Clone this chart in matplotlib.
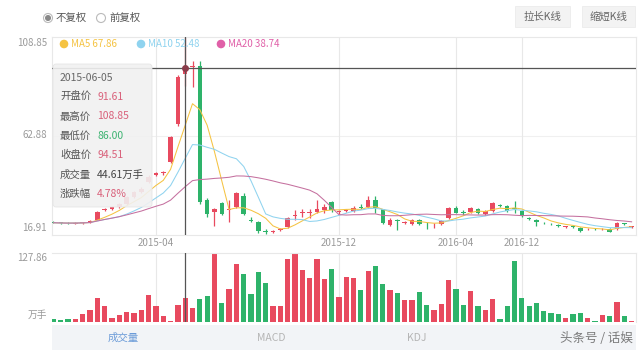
import numpy as np
import pandas as pd
import matplotlib
matplotlib.use("Agg")
import matplotlib.pyplot as plt
from matplotlib.patches import FancyBboxPatch, Rectangle, Circle

plt.rcParams['font.family'] = ['Noto Sans CJK SC', 'DejaVu Sans']

# ---- data ----
opens = [22.9, 22.7, 22.6, 22.2, 22.4, 22.9, 24.0, 28.3, 28.9, 29.9,
         31.3, 34.5, 37.0, 41.5, 44.8, 45.6, 51.0, 68.4, 91.61, 95.0,
         95.5, 33.2, 27.47, 31.6, 28.6, 29.8, 35.0, 24.0, 22.8, 18.6,
         18.3, 19.0, 20.5, 25.8, 27.3, 27.0, 27.75, 28.5, 32.4, 27.5,
         28.1, 28.2, 30.0, 29.8, 33.2, 28.85, 21.6, 24.0, 22.6, 22.0,
         23.9, 21.7, 21.4, 21.9, 24.7, 29.6, 27.5, 27.5, 28.85, 26.5,
         28.2, 30.6, 30.4, 29.3, 28.2, 24.8, 23.7, 22.6, 22.1, 21.6,
         20.6, 20.9, 20.35, 19.5, 19.9, 19.5, 19.75, 19.6, 22.3, 20.6]
highs = [23.4, 23.1, 23.0, 22.9, 23.0, 24.0, 28.2, 29.6, 30.4, 31.9,
         35.0, 37.5, 39.0, 44.6, 46.0, 46.8, 62.9, 91.0, 108.85, 97.5,
         97.5, 34.0, 29.6, 32.2, 33.2, 37.0, 36.3, 25.5, 23.2, 19.9,
         19.0, 20.2, 25.5, 28.5, 29.0, 28.8, 33.2, 31.5, 32.8, 28.6,
         29.2, 30.4, 31.5, 35.2, 34.8, 29.2, 24.6, 24.4, 23.4, 24.4,
         24.3, 22.8, 22.3, 24.0, 29.8, 30.2, 28.4, 29.8, 29.4, 28.6,
         32.4, 31.2, 30.9, 32.8, 28.6, 25.2, 24.2, 23.0, 22.5, 22.0,
         21.3, 21.3, 20.8, 20.2, 20.2, 20.1, 20.1, 22.8, 22.7, 21.2]
lows = [22.3, 22.2, 22.0, 21.9, 22.1, 22.6, 23.8, 27.9, 28.5, 29.5,
        31.0, 34.0, 36.5, 41.0, 44.2, 45.0, 50.5, 67.5, 86.00, 85.6,
        31.5, 25.5, 21.1, 26.0, 23.1, 29.3, 26.2, 22.8, 18.0, 17.6,
        17.8, 18.6, 20.2, 24.0, 25.2, 24.8, 27.2, 27.0, 27.8, 26.8,
        27.5, 27.8, 28.8, 29.4, 27.2, 22.0, 21.2, 19.25, 22.0, 21.6,
        21.6, 19.8, 20.0, 21.5, 24.3, 26.9, 26.4, 27.1, 26.6, 26.1,
        27.8, 29.9, 27.8, 27.0, 25.3, 23.8, 21.2, 21.8, 21.4, 20.8,
        20.2, 20.2, 18.4, 19.1, 19.1, 19.1, 18.1, 19.3, 21.6, 20.3]
closes = [22.6, 22.4, 22.3, 22.5, 22.8, 23.6, 27.75, 29.0, 29.8, 31.5,
          34.5, 37.0, 38.5, 44.0, 45.5, 46.3, 62.6, 90.4, 94.51, 95.6,
          32.4, 26.55, 29.0, 26.7, 29.0, 36.3, 26.7, 23.3, 18.65, 18.4,
          18.7, 19.6, 24.95, 26.4, 27.7, 27.5, 29.15, 30.1, 28.3, 27.9,
          28.5, 29.6, 29.6, 33.2, 29.35, 22.35, 23.9, 23.3, 22.9, 23.9,
          22.0, 21.4, 21.7, 23.6, 29.3, 27.3, 27.2, 29.3, 27.0, 28.2,
          31.9, 30.3, 28.2, 28.8, 25.75, 24.3, 23.0, 22.3, 21.8, 21.2,
          20.9, 20.6, 18.8, 19.9, 19.5, 19.8, 18.45, 22.35, 22.0, 20.9]
volumes = [6.2, 3.0, 6.2, 5.0, 15.6, 21.8, 44.0, 30.0, 7.5, 12.5,
           18.7, 17.5, 21.8, 50.0, 30.0, 11.0, 1.2, 31.0, 44.61, 25.6,
           42.4, 48.6, 127.86, 36.0, 61.0, 108.0, 89.0, 52.0, 92.0, 72.0,
           30.0, 30.0, 116.0, 127.0, 97.0, 82.0, 117.0, 80.0, 98.5, 47.0,
           84.0, 82.0, 59.0, 94.0, 103.5, 70.5, 60.0, 53.0, 40.5, 40.5,
           55.0, 32.0, 22.0, 34.0, 77.0, 61.0, 32.0, 58.0, 30.0, 22.0,
           42.0, 6.0, 29.0, 113.0, 44.0, 30.0, 35.0, 20.5, 17.5, 15.6,
           8.0, 14.0, 17.5, 7.0, 2.0, 13.0, 10.6, 37.0, 11.0, 2.0]

tick_pos = [14, 39, 55, 64]
tick_labels = ['2015-04', '2015-12', '2016-04', '2016-12']
y_labels = ['108.85', '62.88', '16.91']
ma_names = ['MA5 67.86', 'MA10 52.48', 'MA20 38.74']
tip_date = '2015-06-05'
tip_rows = [('开盘价', '91.61'), ('最高价', '108.85'), ('最低价', '86.00'),
            ('收盘价', '94.51'), ('成交量', '44.61万手'), ('涨跌幅', '4.78%')]
sel = 18

RED = '#e84a5f'
GREEN = '#2eb36a'
GRID = '#e8e8e8'
LBL = '#9a9a9a'

W, H = 640, 352
fig = plt.figure(figsize=(6.4, 3.52), dpi=100)
fig.patch.set_facecolor('white')


def box(px0, py0, px1, py1):
    # pixel box (top-left origin) -> figure rect
    return [px0 / W, 1 - py1 / H, (px1 - px0) / W, (py1 - py0) / H]


n = len(closes)
x = np.arange(n)
o = np.array(opens); c = np.array(closes)
cols = np.where(c >= o, RED, GREEN)

# main candle chart
ax = fig.add_axes(box(52, 37, 636, 235))
ax.set_xlim(-0.2, 79.6)
ax.set_ylim(16.91, 108.85)
for s in ax.spines.values():
    s.set_color(GRID)
    s.set_linewidth(0.8)
ax.set_xticks([]); ax.set_yticks([])
ax.axhline(62.88, color='#f0f0f0', lw=0.8, zorder=0)
for t in tick_pos:
    ax.axvline(t, color=GRID, lw=0.8, zorder=0)

ax.vlines(x, lows, highs, color=cols, lw=0.9, zorder=2)
body = np.maximum(np.abs(c - o), 0.35)
ax.bar(x, body, bottom=np.minimum(o, c), width=0.62, color=cols, zorder=3)

cs = pd.Series(closes)
ma_cols = ['#f5c342', '#8fd3ef', '#c5709f']
for w, mc in zip([5, 10, 20], ma_cols):
    ax.plot(x, cs.rolling(w, min_periods=1).mean(), color=mc, lw=0.75, zorder=4)

# crosshair
ax.axvline(sel, color='#555555', lw=0.9, zorder=6)
ax.axhline(closes[sel], color='#555555', lw=0.9, zorder=6)
ax.plot([sel], [closes[sel]], 'o', ms=4, color='#8a3b4a', zorder=7)

# volume panel
vx = fig.add_axes(box(52, 253, 636, 322))
vx.set_xlim(-0.2, 79.6)
vx.set_ylim(0, max(volumes))
for s in vx.spines.values():
    s.set_color(GRID)
    s.set_linewidth(0.8)
vx.spines['bottom'].set_visible(False)
vx.spines['left'].set_visible(False)
vx.set_xticks([]); vx.set_yticks([])
for t in tick_pos:
    vx.axvline(t, color=GRID, lw=0.8, zorder=0)
vx.bar(x, volumes, width=0.72, color=cols, zorder=2)
vx.axvline(sel, color='#555555', lw=0.9, zorder=6)

# overlay in pixel coordinates for all the page furniture
ov = fig.add_axes([0, 0, 1, 1])
ov.set_xlim(0, W); ov.set_ylim(H, 0)
ov.axis('off')
ov.patch.set_alpha(0)

for lab, py in zip(y_labels, [43, 135, 228]):
    ov.text(47, py, lab, ha='right', va='center', fontsize=7, color=LBL)
ov.text(47, 258, '127.86', ha='right', va='center', fontsize=7, color=LBL)
ov.text(47, 315, '万手', ha='right', va='center', fontsize=7, color=LBL)
for t, lab in zip(tick_pos, tick_labels):
    px = 52 + (t + 0.2) / 79.8 * 584
    ov.text(px, 243, lab, ha='center', va='center', fontsize=7, color=LBL)

# MA legend
for name, mc, px in zip(ma_names, ['#f5c342', '#8fd3ef', '#e060a8'], [64, 141, 221]):
    ov.add_patch(Circle((px, 44), 3.6, color=mc))
    ov.text(px + 7, 44, name, ha='left', va='center', fontsize=7, color=mc)

# tooltip
ov.add_patch(FancyBboxPatch((53, 64), 99, 143, boxstyle='round,pad=0,rounding_size=3',
                            facecolor='#f1f1f1', edgecolor='#e4e4e4', lw=0.6, alpha=0.9))
ov.text(60, 78, tip_date, ha='left', va='center', fontsize=7.5, color='#666666')
val_cols = ['#d9607a', '#d9607a', '#3cb371', '#d9607a', '#444444', '#d9607a']
for i, ((k, v), vc) in enumerate(zip(tip_rows, val_cols)):
    py = 97 + i * 19.4
    ov.text(60, py, k, ha='left', va='center', fontsize=7.5, color='#555555')
    ov.text(97, py, v, ha='left', va='center', fontsize=7.5, color=vc)

# radio buttons
for px, lab, on in [(48, '不复权', True), (101, '前复权', False)]:
    ov.add_patch(Circle((px, 18), 4.5, facecolor='white', edgecolor='#bbbbbb', lw=0.8))
    if on:
        ov.add_patch(Circle((px, 18), 2.3, color='#888888'))
    ov.text(px + 8, 18, lab, ha='left', va='center', fontsize=7.5, color='#555555')

# buttons
for x0, x1, lab in [(515, 570, '拉长K线'), (582, 635, '缩短K线')]:
    ov.add_patch(Rectangle((x0, 6), x1 - x0, 21, facecolor='#f3f3f3',
                           edgecolor='#ececec', lw=0.6))
    ov.text((x0 + x1) / 2, 16.5, lab, ha='center', va='center', fontsize=7.5, color='#666666')

# tab bar
ov.add_patch(Rectangle((52, 325), 584, 25, facecolor='#f2f4f7', edgecolor='none'))
ov.text(123, 338, '成交量', ha='center', va='center', fontsize=7.5, color='#6b9bd8')
ov.text(271, 338, 'MACD', ha='center', va='center', fontsize=7.5, color='#b5b5b5')
ov.text(417, 338, 'KDJ', ha='center', va='center', fontsize=7.5, color='#b5b5b5')
ov.text(633, 338, '头条号 / 话娱', ha='right', va='center', fontsize=9, color='#666666', alpha=0.85)

fig.savefig('out.png', dpi=100)
